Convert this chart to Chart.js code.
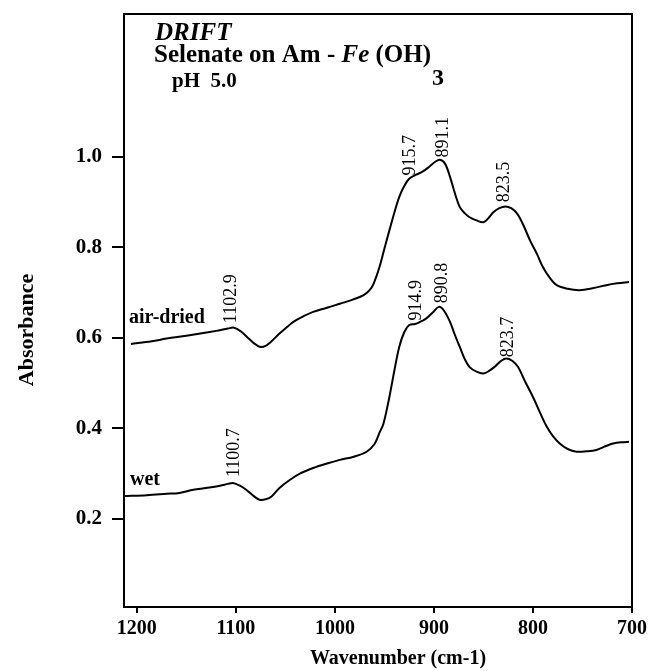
<!DOCTYPE html>
<html>
<head>
<meta charset="utf-8">
<script src="https://cdn.jsdelivr.net/npm/chart.js@4.4.1/dist/chart.umd.min.js"></script>
<style>
html,body{margin:0;padding:0;background:#fff;}
#wrap{width:649px;height:671px;position:relative;}
</style>
</head>
<body>
<div id="wrap"><canvas id="c" width="649" height="671"></canvas></div>
<script>
// ---- data ----
const wavenumberTicks = [1200, 1100, 1000, 900, 800, 700];
const absorbanceTicks = [0.2, 0.4, 0.6, 0.8, 1.0];

const airWn  = [1206,1185,1170,1150,1136,1120,1108,1102,1095,1088,1082,1076,1070,1064,1056,1048,1042,1032,1022,1008,995,982,971,965,961,955,950,945,940,935,930,925,918,912,905,899,894,889,884,879,874,869,864,857,850,845,840,834,828,822,816,810,803,796,790,783,776,765,753,740,726,715,703];
const airAbs = [0.586,0.592,0.598,0.604,0.609,0.615,0.620,0.622,0.614,0.600,0.588,0.580,0.582,0.592,0.609,0.624,0.635,0.647,0.657,0.666,0.675,0.684,0.694,0.705,0.719,0.756,0.797,0.837,0.876,0.911,0.935,0.951,0.960,0.966,0.977,0.988,0.993,0.985,0.957,0.920,0.889,0.875,0.866,0.859,0.855,0.864,0.877,0.886,0.890,0.886,0.874,0.850,0.815,0.785,0.756,0.732,0.716,0.708,0.705,0.709,0.716,0.720,0.723];

const wetWn  = [1213,1190,1170,1157,1143,1130,1116,1108,1103,1096,1089,1082,1076,1070,1064,1056,1046,1035,1022,1008,995,981,968,960,955,951,945,940,935,930,925,919,913,908,901,895,890,884,879,874,869,864,857,850,844,838,832,827,821,815,808,800,793,786,780,773,765,756,746,736,727,719,710,703];
const wetAbs = [0.250,0.252,0.255,0.257,0.264,0.268,0.273,0.277,0.279,0.273,0.263,0.250,0.242,0.243,0.249,0.268,0.285,0.300,0.312,0.322,0.330,0.337,0.348,0.365,0.390,0.410,0.469,0.527,0.580,0.612,0.628,0.630,0.636,0.642,0.656,0.668,0.660,0.636,0.607,0.580,0.553,0.535,0.525,0.521,0.527,0.537,0.549,0.554,0.549,0.535,0.503,0.469,0.435,0.403,0.383,0.366,0.354,0.348,0.349,0.352,0.360,0.366,0.369,0.370];

// peak annotations (text, anchor wavenumber, anchor absorbance)
const peakText = ['1102.9','915.7','891.1','823.5','1100.7','914.9','890.8','823.7'];
const peakWn   = [1106, 925, 892, 830, 1103, 919, 893, 826];
const peakAbs  = [0.632, 0.958, 0.998, 0.899, 0.292, 0.638, 0.676, 0.557];

const seriesNames = ['air-dried', 'wet'];
const seriesLabelWn  = [1208, 1207];
const seriesLabelAbs = [0.632, 0.274];

const titleLines = ['DRIFT', 'Selenate on Am - ', 'Fe', ' (OH)', '3', 'pH  5.0'];
const xTitle = 'Wavenumber (cm-1)';
const yTitle = 'Absorbance';

// ---- chart ----
const SERIF = '"Liberation Serif", "Times New Roman", serif';
const toPts = (xs, ys) => xs.map((x, i) => ({x: x, y: ys[i]}));

const decor = {
  id: 'decor',
  afterDraw(chart) {
    const ctx = chart.ctx, a = chart.chartArea;
    const xs = chart.scales.x, ys = chart.scales.y;
    ctx.save();
    // frame
    ctx.strokeStyle = '#000';
    ctx.lineWidth = 2;
    ctx.strokeRect(a.left, a.top, a.right - a.left, a.bottom - a.top);
    ctx.fillStyle = '#000';
    // peak labels
    ctx.font = '18px ' + SERIF;
    ctx.textAlign = 'left';
    ctx.textBaseline = 'middle';
    peakText.forEach((t, i) => {
      const px = xs.getPixelForValue(peakWn[i]);
      const py = ys.getPixelForValue(peakAbs[i]);
      ctx.save();
      ctx.translate(px, py);
      ctx.rotate(-Math.PI / 2);
      ctx.fillText(t, 0, 1);
      ctx.restore();
    });
    // series names
    ctx.font = 'bold 20px ' + SERIF;
    ctx.textBaseline = 'alphabetic';
    seriesNames.forEach((t, i) => {
      ctx.fillText(t, xs.getPixelForValue(seriesLabelWn[i]), ys.getPixelForValue(seriesLabelAbs[i]));
    });
    // title block
    ctx.font = 'italic bold 25px ' + SERIF;
    ctx.fillText(titleLines[0], 155, 40);
    let x = 154;
    ctx.font = 'bold 25px ' + SERIF;
    ctx.fillText(titleLines[1], x, 62); x += ctx.measureText(titleLines[1]).width;
    ctx.font = 'italic bold 25px ' + SERIF;
    ctx.fillText(titleLines[2], x, 62); x += ctx.measureText(titleLines[2]).width;
    ctx.font = 'bold 25px ' + SERIF;
    ctx.fillText(titleLines[3], x, 62); x += ctx.measureText(titleLines[3]).width;
    ctx.font = 'bold 24px ' + SERIF;
    ctx.fillText(titleLines[4], x + 1, 85);
    ctx.font = 'bold 21px ' + SERIF;
    ctx.fillText(titleLines[5], 172, 87);
    // axis titles
    ctx.font = 'bold 20px ' + SERIF;
    ctx.textAlign = 'center';
    ctx.fillText(xTitle, 398, 664);
    ctx.save();
    ctx.translate(33, 330);
    ctx.rotate(-Math.PI / 2);
    ctx.font = 'bold 22px ' + SERIF;
    ctx.fillText(yTitle, 0, 0);
    ctx.restore();
    ctx.restore();
  }
};

new Chart(document.getElementById('c'), {
  type: 'line',
  data: {
    datasets: [
      { label: seriesNames[0], data: toPts(airWn, airAbs) },
      { label: seriesNames[1], data: toPts(wetWn, wetAbs) }
    ]
  },
  options: {
    responsive: false,
    animation: false,
    devicePixelRatio: 1,
    layout: { padding: { top: 14, right: 17, left: 0, bottom: 0 } },
    elements: {
      line: { borderColor: '#000', borderWidth: 2, tension: 0.35, fill: false },
      point: { radius: 0, hoverRadius: 0 }
    },
    plugins: { legend: { display: false }, tooltip: { enabled: false } },
    scales: {
      x: {
        type: 'linear',
        reverse: true,
        min: 700,
        max: 1213,
        afterBuildTicks: s => { s.ticks = wavenumberTicks.map(v => ({ value: v })); },
        afterFit: s => { s.height = 64; s.paddingLeft = 0; s.paddingRight = 0; },
        grid: { drawOnChartArea: false, drawTicks: true, tickLength: 6, color: '#000', lineWidth: 2 },
        border: { display: true, color: '#000', width: 2 },
        ticks: { color: '#000', padding: 4, maxRotation: 0, autoSkip: false,
                 font: { family: SERIF, size: 20, weight: 'bold' },
                 callback: v => String(v) }
      },
      y: {
        type: 'linear',
        min: 0.005,
        max: 1.315,
        afterBuildTicks: s => { s.ticks = absorbanceTicks.map(v => ({ value: v })); },
        afterFit: s => { s.width = 124; s.paddingTop = 0; s.paddingBottom = 0; },
        grid: { drawOnChartArea: false, drawTicks: true, tickLength: 12, color: '#000', lineWidth: 2 },
        border: { display: true, color: '#000', width: 2 },
        ticks: { color: '#000', padding: 10, autoSkip: false,
                 font: { family: SERIF, size: 21, weight: 'bold' },
                 callback: v => Number(v).toFixed(1) }
      }
    }
  },
  plugins: [decor]
});
</script>
</body>
</html>
